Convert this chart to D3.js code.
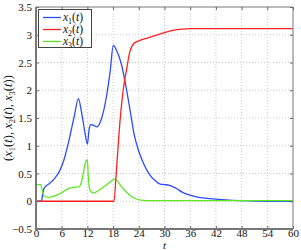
<!DOCTYPE html>
<html><head><meta charset="utf-8">
<script src="https://cdn.jsdelivr.net/npm/d3@7/dist/d3.min.js"></script>
<style>body{margin:0;background:#fff}svg{display:block}</style>
</head><body><svg id="c" width="301" height="250"></svg>
<script>
const xTicks = [0,6,12,18,24,30,36,42,48,54,60];
const yTicks = [-0.5,0,0.5,1,1.5,2,2.5,3,3.5];
const yTickLabels = ["\u22120.5","0","0.5","1","1.5","2","2.5","3","3.5"];
const seriesNames = ["1","2","3"];
const seriesColors = ["#2b4bff","#ff2020","#5fe622"];

const x1T = [0,1.3,1.5,1.87,2.4,3.0,4.2,5.4,6.5,7.7,8.9,9.9,10.6,11.4,12.0,12.4,12.8,13.4,14.2,15.3,16.5,17.3,18.05,18.8,20.0,20.8,21.9,22.95,24,25,26.6,28,29,30,31,32,33,34,36,38,40,42,45,48,54,60];
const x1V = [0,0,0.1,0.23,0.28,0.31,0.40,0.53,0.74,1.10,1.52,1.85,1.62,1.25,1.03,1.30,1.38,1.37,1.34,1.49,1.91,2.33,2.81,2.72,2.45,2.15,1.67,1.19,0.90,0.70,0.47,0.36,0.31,0.30,0.29,0.26,0.22,0.17,0.11,0.07,0.05,0.04,0.02,0.01,0,0];

const x2T = [0,18.2,18.8,19.6,20.4,21.2,21.9,22.95,24,26,28,30,32,34,36,60];
const x2V = [0,0,0.59,1.43,2.03,2.40,2.69,2.85,2.89,2.94,2.99,3.04,3.08,3.10,3.11,3.11];

const x3T = [0,1.1,1.5,1.87,3.0,5.4,7.7,9.6,10.1,10.8,11.6,12.0,12.2,12.6,13.4,15.3,16.9,18.4,20,21.9,23.1,24.5,27,60];
const x3V = [0.30,0.30,0.18,0.095,0.07,0.13,0.23,0.26,0.26,0.41,0.71,0.75,0.45,0.20,0.15,0.23,0.32,0.40,0.26,0.11,0.05,0.02,0.01,0.01];

const FONT = "'Liberation Serif','DejaVu Serif',serif";
const svg = d3.select("#c");
const L=36,R=293,T=7,B=229;
const x = d3.scaleLinear().domain([0,60]).range([L,R]);
const y = d3.scaleLinear().domain([-0.5,3.5]).range([B,T]);

// grid
const g = svg.append("g");
g.selectAll(".gx").data(xTicks.slice(1,-1)).enter().append("line")
 .attr("x1",d=>x(d)).attr("x2",d=>x(d)).attr("y1",T).attr("y2",B)
 .attr("stroke","#c8c8c8").attr("stroke-width",1).attr("stroke-dasharray","1,2");
g.selectAll(".gy").data(yTicks.slice(1,-1)).enter().append("line")
 .attr("y1",d=>y(d)).attr("y2",d=>y(d)).attr("x1",L).attr("x2",R)
 .attr("stroke","#c8c8c8").attr("stroke-width",1).attr("stroke-dasharray","1,2");

// lines
const mk = (T_,V_)=>T_.map((t,i)=>[t,V_[i]]);
const data = [mk(x1T,x1V), mk(x2T,x2V), mk(x3T,x3V)];
const line = d3.line().x(d=>x(d[0])).y(d=>y(d[1])).curve(d3.curveMonotoneX);
[0,2,1].forEach(i=>{
  svg.append("path").datum(data[i]).attr("d",line).attr("fill","none")
   .attr("stroke",seriesColors[i]).attr("stroke-width",1.3);
});

// axes
const ax = svg.append("g").attr("transform",`translate(0,${B})`).call(d3.axisBottom(x).tickValues(xTicks).tickSize(-3).tickPadding(0).tickFormat(d3.format("d")));
const ay = svg.append("g").attr("transform",`translate(${L},0)`).call(d3.axisLeft(y).tickValues(yTicks).tickSize(-3).tickPadding(4).tickFormat((d,i)=>yTickLabels[i]));
const axT = svg.append("g").attr("transform",`translate(0,${T})`).call(d3.axisTop(x).tickValues(xTicks).tickSize(-3).tickFormat(""));
const ayR = svg.append("g").attr("transform",`translate(${R},0)`).call(d3.axisRight(y).tickValues(yTicks).tickSize(-3).tickFormat(""));
[ax,ay,axT,ayR].forEach(a=>{
  a.attr("font-family",FONT).attr("font-size",11);
  a.selectAll("path").remove();
  a.selectAll("line").attr("stroke","#666");
  a.selectAll("text").attr("fill","#111").attr("font-family",FONT).style("font-size","11px");
});
svg.append("line").attr("x1",L).attr("x2",R).attr("y1",T).attr("y2",T).attr("stroke","#777");
svg.append("line").attr("x1",R).attr("x2",R).attr("y1",T).attr("y2",B).attr("stroke","#777");
svg.append("line").attr("x1",L).attr("x2",R).attr("y1",B).attr("y2",B).attr("stroke","#777").attr("stroke-width",2);
svg.append("line").attr("x1",L).attr("x2",L).attr("y1",T).attr("y2",B+1).attr("stroke","#777").attr("stroke-width",2);

// legend
const lg = svg.append("g");
lg.append("rect").attr("x",38.5).attr("y",9.5).attr("width",53).attr("height",38).attr("fill","#fff").attr("stroke","#444").attr("stroke-width",1);
seriesNames.forEach((n,i)=>{
  const yy = 17.5 + i*12;
  lg.append("line").attr("x1",43).attr("x2",61).attr("y1",yy).attr("y2",yy).attr("stroke",seriesColors[i]).attr("stroke-width",1.3);
  const t = lg.append("text").attr("x",63).attr("y",yy+3.5).attr("font-family",FONT).style("font-size","11.5px").attr("fill","#111");
  t.append("tspan").attr("font-style","italic").text("x");
  t.append("tspan").attr("dy",2.5).style("font-size","8px").text(n);
  t.append("tspan").attr("dy",-2.5).text("(");
  t.append("tspan").attr("font-style","italic").text("t");
  t.append("tspan").text(")");
});

// axis labels
const yl = svg.append("text").attr("transform","translate(12,118) rotate(-90)").attr("text-anchor","middle").attr("font-family",FONT).style("font-size","12.5px").attr("fill","#111");
yl.append("tspan").text("(");
seriesNames.forEach((n,i)=>{
  yl.append("tspan").attr("font-style","italic").text("x");
  yl.append("tspan").attr("dy",3).style("font-size","8.5px").text(n);
  yl.append("tspan").attr("dy",-3).text("(");
  yl.append("tspan").attr("font-style","italic").text("t");
  yl.append("tspan").text(i<2?"), ":")");
});
yl.append("tspan").text(")");
svg.append("text").attr("x",x(30)).attr("y",249).attr("text-anchor","middle").attr("font-family",FONT).attr("font-style","italic").style("font-size","11px").attr("fill","#111").text("t");
</script></body></html>
